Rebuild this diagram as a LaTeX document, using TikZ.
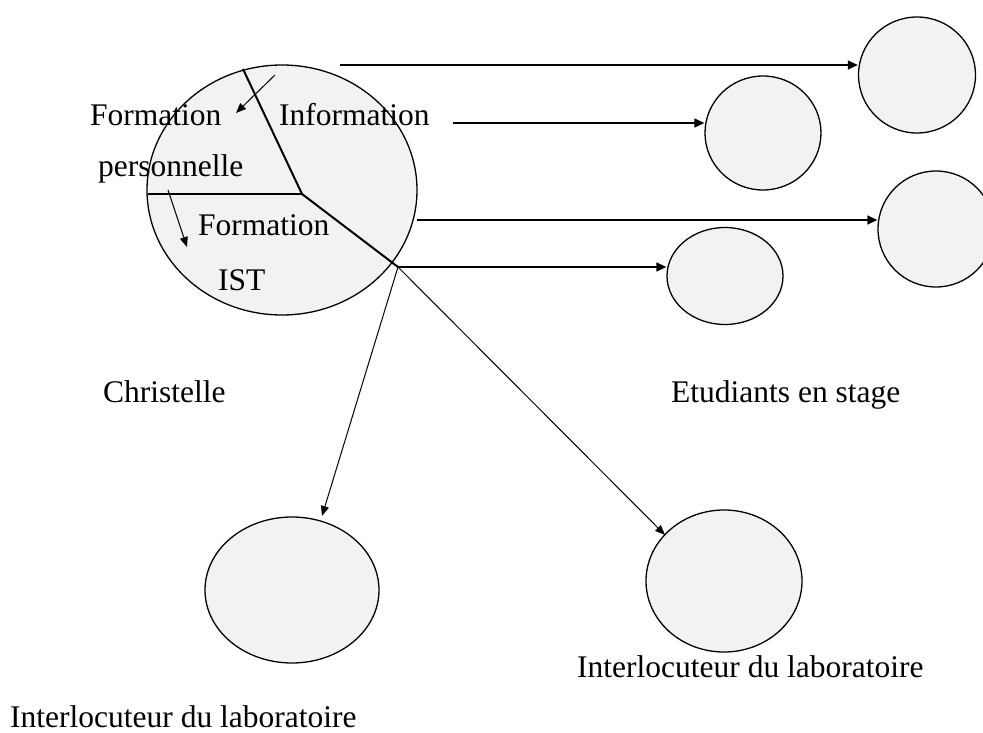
\documentclass[tikz,border=0pt]{standalone}
\usepackage{fontspec}
\setmainfont{Liberation Serif}
\usetikzlibrary{shapes.geometric,arrows.meta}
\definecolor{shade}{HTML}{F2F2F2}
\begin{document}
\begin{tikzpicture}[x=1pt,y=-1pt,
  blob/.style={ellipse,draw,fill=shade,line width=1.3pt,inner sep=0pt},
  arr/.style={-{Triangle[length=10pt,width=9pt]},line width=1.3pt},
  thinarr/.style={-{Triangle[length=10pt,width=8pt]},line width=1pt},
  divider/.style={line width=2pt},
  lbl/.style={anchor=base west,inner sep=0pt,font=\fontsize{31.5}{36}\selectfont}]
\useasboundingbox (0,0) rectangle (983,733);
% main ellipse
\node[blob,minimum width=270pt,minimum height=250pt] (main) at (282,190) {};
% target circles
\node[blob,minimum width=117pt,minimum height=116pt] (c1) at (917,75) {};
\node[blob,minimum width=116pt,minimum height=114pt] (c2) at (763,133) {};
\node[blob,minimum width=116pt,minimum height=116pt] (c3) at (936,229) {};
\node[blob,minimum width=116pt,minimum height=97pt] (c4) at (725,276) {};
\node[blob,minimum width=174pt,minimum height=146pt] (bl) at (292,590) {};
\node[blob,minimum width=156pt,minimum height=142pt] (br) at (724,581) {};
% divider lines
\coordinate (top) at (243,69);
\coordinate (ctr) at (302,194);
\coordinate (lft) at (148,194);
\coordinate (j) at (398,267);
\draw[divider] (top) -- (ctr) -- (j);
\draw[divider] (lft) -- (ctr);
% labels
\node[lbl] (f1) at (90,126) {Formation};
\node[lbl] (inf) at (279,126) {Information};
\node[lbl] (pers) at (98,176) {personnelle};
\node[lbl] (f2) at (198,235) {Formation};
\node[lbl] (ist) at (218,290) {IST};
\node[lbl] (chr) at (103,402) {Christelle};
\node[lbl] (etu) at (671,402) {Etudiants en stage};
\node[lbl] (int1) at (577,677) {Interlocuteur du laboratoire};
\node[lbl] (int2) at (10,727) {Interlocuteur du laboratoire};
% small inner arrows
\coordinate (a1s) at (275,75);
\coordinate (a1e) at (236,113);
\coordinate (a2s) at (168,190);
\coordinate (a2e) at (187,247);
\draw[thinarr] (a1s) -- (a1e);
\draw[thinarr] (a2s) -- (a2e);
% connectors
\coordinate (s1) at (340,65);
\coordinate (s2) at (453,123);
\coordinate (s3) at (417,220);
\draw[arr] (s1) -- (s1 -| c1.west);
\draw[arr] (s2) -- (s2 -| c2.west);
\draw[arr] (s3) -- (s3 -| c3.west);
\draw[arr] (j) -- (j -| c4.west);
\coordinate (t1) at (322,516);
\coordinate (t2) at (665,535);
\draw[thinarr] (j) -- (t1);
\draw[thinarr] (j) -- (t2);
\end{tikzpicture}
\end{document}
